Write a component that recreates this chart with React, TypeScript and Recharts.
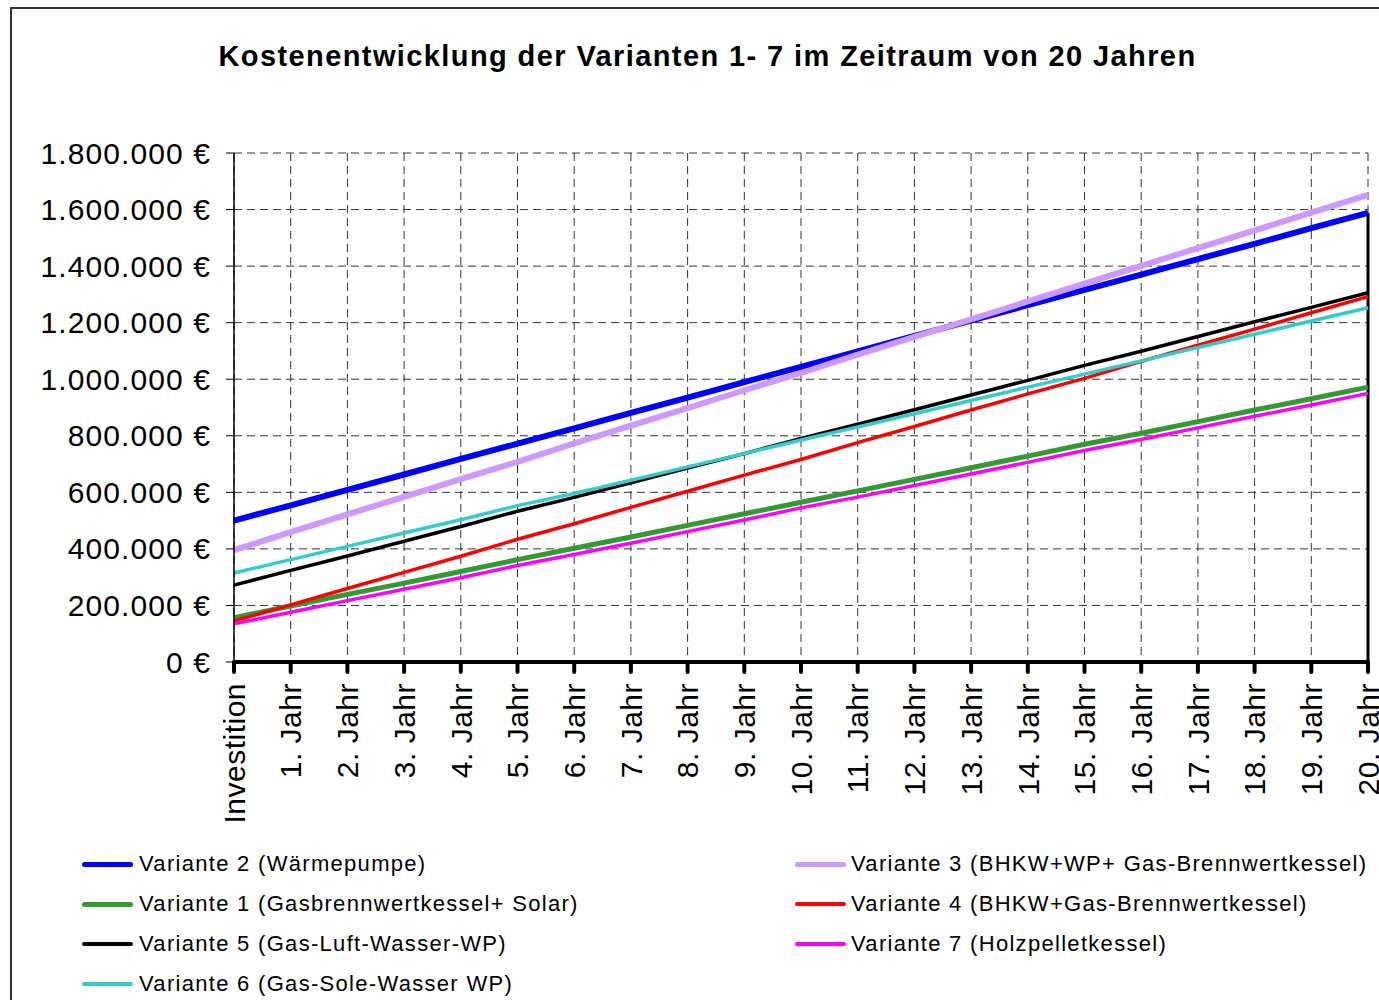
import React from 'react';
import { LineChart, Line, XAxis, YAxis, CartesianGrid, ReferenceLine } from 'recharts';

const categories = [
  'Investition', '1. Jahr', '2. Jahr', '3. Jahr', '4. Jahr', '5. Jahr', '6. Jahr', '7. Jahr',
  '8. Jahr', '9. Jahr', '10. Jahr', '11. Jahr', '12. Jahr', '13. Jahr', '14. Jahr', '15. Jahr',
  '16. Jahr', '17. Jahr', '18. Jahr', '19. Jahr', '20. Jahr',
];

const yTicks = [0, 200000, 400000, 600000, 800000, 1000000, 1200000, 1400000, 1600000, 1800000];

const variante2 = [500000, 554000, 609000, 663000, 718000, 772000, 826000, 881000, 935000, 990000, 1044000, 1098000, 1153000, 1207000, 1262000, 1316000, 1370000, 1425000, 1479000, 1534000, 1588000];
const variante3 = [396000, 459000, 522000, 584000, 647000, 708000, 773000, 836000, 898000, 961000, 1022000, 1087000, 1150000, 1212000, 1275000, 1338000, 1401000, 1464000, 1526000, 1589000, 1652000];
const variante1 = [157000, 198000, 239000, 279000, 320000, 362000, 402000, 442000, 483000, 524000, 565000, 605000, 646000, 687000, 728000, 770000, 809000, 850000, 891000, 931000, 972000];
const variante4 = [145000, 202000, 260000, 317000, 374000, 434000, 489000, 547000, 604000, 661000, 716000, 776000, 833000, 891000, 948000, 1003000, 1063000, 1120000, 1177000, 1235000, 1292000];
const variante5 = [272000, 324000, 375000, 427000, 479000, 533000, 582000, 634000, 686000, 737000, 791000, 841000, 892000, 944000, 996000, 1049000, 1099000, 1151000, 1203000, 1254000, 1306000];
const variante7 = [135000, 176000, 217000, 257000, 298000, 341000, 380000, 420000, 461000, 502000, 545000, 583000, 624000, 665000, 706000, 748000, 787000, 828000, 869000, 909000, 950000];
const variante6 = [315000, 362000, 409000, 456000, 503000, 553000, 596000, 643000, 690000, 737000, 785000, 831000, 878000, 925000, 972000, 1018000, 1065000, 1112000, 1159000, 1206000, 1253000];

const seriesNames = {
  v2: 'Variante 2 (Wärmepumpe)',
  v3: 'Variante 3 (BHKW+WP+ Gas-Brennwertkessel)',
  v1: 'Variante 1 (Gasbrennwertkessel+ Solar)',
  v4: 'Variante 4 (BHKW+Gas-Brennwertkessel)',
  v5: 'Variante 5 (Gas-Luft-Wasser-WP)',
  v7: 'Variante 7 (Holzpelletkessel)',
  v6: 'Variante 6 (Gas-Sole-Wasser WP)',
};

const series = [
  { key: 'v2', values: variante2, color: '#0000FF', width: 6 },
  { key: 'v3', values: variante3, color: '#CC99FF', width: 6 },
  { key: 'v1', values: variante1, color: '#339933', width: 5 },
  { key: 'v4', values: variante4, color: '#FF0000', width: 3.5 },
  { key: 'v5', values: variante5, color: '#000000', width: 3.5 },
  { key: 'v7', values: variante7, color: '#FF00FF', width: 3.5 },
  { key: 'v6', values: variante6, color: '#33CCCC', width: 3.5 },
];

const legendLeft = ['v2', 'v1', 'v5', 'v6'];
const legendRight = ['v3', 'v4', 'v7'];

const data = categories.map((c, i) => {
  const row: any = { name: c };
  series.forEach((s) => { row[s.key] = s.values[i]; });
  return row;
});

const FONT = '"Liberation Sans", Arial, Helvetica, sans-serif';

const fmtEuro = (n: number) => String(n).replace(/\B(?=(\d{3})+(?!\d))/g, '.') + ' €';

const YTick = (props: any) => {
  const { x, y, payload } = props;
  return (
    <text x={x} y={y} textAnchor="end" dominantBaseline="central" fontSize={30} fill="#000"
      fontFamily={FONT} letterSpacing={1.1}>
      {fmtEuro(payload.value)}
    </text>
  );
};

const XTick = (props: any) => {
  const { x, y, payload } = props;
  return (
    <text x={x} y={y} dy="0.36em" textAnchor="end" transform={`rotate(-90, ${x}, ${y})`}
      fontSize={30} fill="#000" fontFamily={FONT} letterSpacing={0.5}>
      {payload.value}
    </text>
  );
};

const LegendItem = ({ k, lineX, textX, cy }: { k: string; lineX: number; textX: number; cy: number }) => {
  const s = series.find((q) => q.key === k)!;
  const w = Math.max(4, Math.min(5, s.width));
  return (
    <>
      <div style={{ position: 'absolute', left: lineX, top: cy - w / 2, width: 51, height: w, background: s.color, borderRadius: w / 2 }} />
      <div style={{ position: 'absolute', left: textX, top: cy - 13, height: 26, lineHeight: '26px', fontSize: 22, letterSpacing: 1.3, fontFamily: FONT, color: '#000', whiteSpace: 'nowrap' }}>
        {(seriesNames as any)[k]}
      </div>
    </>
  );
};

export default function App() {
  const rowsY = [864, 904, 944, 984];
  return (
    <div style={{ position: 'fixed', left: 0, top: 0, width: 1379, height: 1000, overflow: 'hidden', background: '#fff' }}>
      <div style={{ position: 'absolute', left: 10, top: 7, width: 1400, height: 1010, borderLeft: '2px solid #333', borderTop: '2px solid #333' }} />
      <div style={{ position: 'absolute', left: 0, top: 40, width: 1415, textAlign: 'center', fontFamily: FONT, fontWeight: 'bold', fontSize: 29, letterSpacing: 1.4, lineHeight: '32px', color: '#000', whiteSpace: 'nowrap' }}>
        Kostenentwicklung der Varianten 1- 7 im Zeitraum von 20 Jahren
      </div>
      <div style={{ position: 'absolute', left: 0, top: 0 }}>
        <LineChart width={1379} height={1000} data={data} margin={{ top: 153, right: 11, bottom: 0, left: 0 }}>
          <CartesianGrid stroke="#333" strokeDasharray="8 5" strokeWidth={1} />
          <XAxis dataKey="name" height={338} interval={0} tickSize={10} tickMargin={11}
            axisLine={{ stroke: '#000', strokeWidth: 4 }}
            tickLine={{ stroke: '#000', strokeWidth: 4, strokeLinecap: 'round' }}
            tick={<XTick />} />
          <YAxis width={234} domain={[0, 1800000]} ticks={yTicks} interval={0} tickSize={8} tickMargin={15}
            axisLine={{ stroke: '#000', strokeWidth: 1.5 }}
            tickLine={{ stroke: '#000', strokeWidth: 1 }}
            tick={<YTick />} />
          <ReferenceLine segment={[{ x: categories[categories.length - 1], y: 0 }, { x: categories[categories.length - 1], y: variante2[variante2.length - 1] }]}
            stroke="#000" strokeWidth={3} />
          {series.map((s) => (
            <Line key={s.key} type="linear" dataKey={s.key} name={(seriesNames as any)[s.key]} stroke={s.color}
              strokeWidth={s.width} dot={false} activeDot={false} isAnimationActive={false} />
          ))}
        </LineChart>
      </div>
      {legendLeft.map((k, i) => (
        <LegendItem key={k} k={k} lineX={82} textX={139} cy={rowsY[i]} />
      ))}
      {legendRight.map((k, i) => (
        <LegendItem key={k} k={k} lineX={795} textX={851} cy={rowsY[i]} />
      ))}
    </div>
  );
}
